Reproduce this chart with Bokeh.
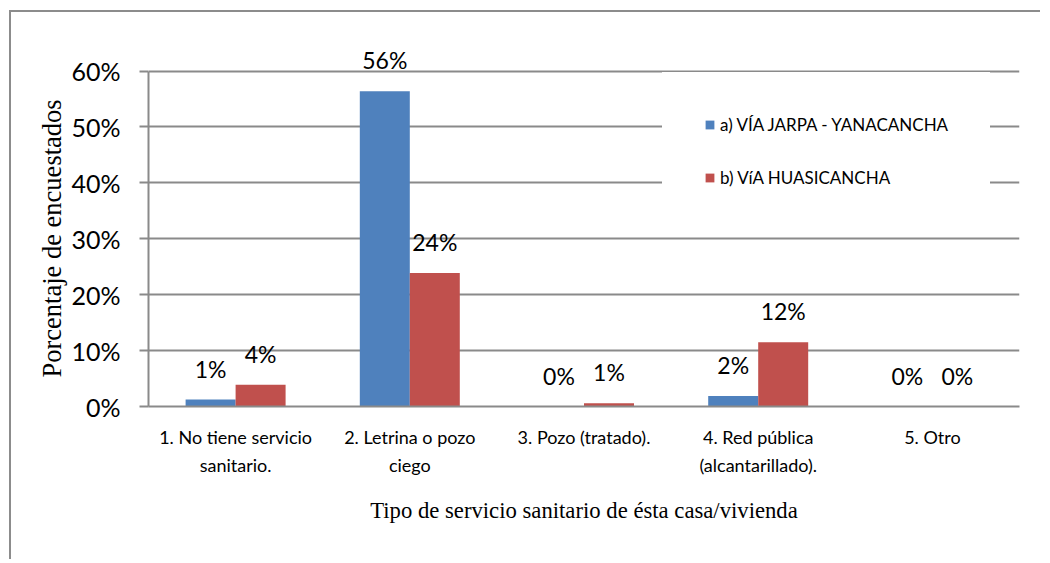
from bokeh.plotting import figure
from bokeh.models import (FactorRange, Range1d, ColumnDataSource, LabelSet, Legend,
                          LegendItem, NumeralTickFormatter, FixedTicker, Title)
from bokeh.transform import dodge
from bokeh.embed import file_html
from bokeh.resources import INLINE
from bokeh.core.properties import value

# ---- data ----
categories = ["1. No tiene servicio\nsanitario.", "2. Letrina o pozo\nciego",
              "3. Pozo (tratado).", "4. Red pública\n(alcantarillado).", "5. Otro"]
series_a_name = "a) VÍA JARPA - YANACANCHA"
series_b_name = "b) VíA HUASICANCHA"
series_a = [0.0125, 0.564, 0.0, 0.019, 0.0]
series_b = [0.039, 0.239, 0.006, 0.115, 0.0]
labels_a = ["1%", "56%", "0%", "2%", "0%"]
labels_b = ["4%", "24%", "1%", "12%", "0%"]
y_ticks = [0.0, 0.1, 0.2, 0.3, 0.4, 0.5, 0.6]
y_title = "Porcentaje de encuestados"
x_title = "Tipo de servicio sanitario de ésta casa/vivienda"

GRID = "#8a8a8a"
BLUE = "#4F81BD"
RED = "#C0504D"

src = ColumnDataSource(dict(cat=categories, a=series_a, b=series_b, la=labels_a, lb=labels_b))

p = figure(x_range=FactorRange(*categories), y_range=Range1d(0, 0.66),
           width=1031, height=549, output_backend="svg", toolbar_location=None,
           min_border_left=137, min_border_right=23, min_border_top=25, min_border_bottom=155)
p.styles = {"margin-left": "9px", "margin-top": "10px",
            "border-left": "2px solid #8c8c8c", "border-top": "2px solid #8c8c8c"}
p.outline_line_color = None
p.background_fill_color = "white"
p.border_fill_color = "white"

off = 0.1435
ra = p.vbar(x=dodge("cat", -off, range=p.x_range), top="a", width=0.287, source=src,
            fill_color=BLUE, line_color=None)
rb = p.vbar(x=dodge("cat", off, range=p.x_range), top="b", width=0.287, source=src,
            fill_color=RED, line_color=None)

for col, lab, o in (("a", "la", -off), ("b", "lb", off)):
    ls = LabelSet(x=dodge("cat", o, range=p.x_range), y=col, text=lab, source=src,
                  text_align="center", text_baseline="middle", y_offset=31,
                  text_font=value("Lato"), text_font_size="23px", text_color="black")
    p.add_layout(ls)

# grid
p.xgrid.grid_line_color = None
p.ygrid.ticker = FixedTicker(ticks=y_ticks)
p.ygrid.grid_line_color = GRID
p.ygrid.grid_line_width = 2

# y axis
p.yaxis.ticker = FixedTicker(ticks=y_ticks)
p.yaxis.bounds = (0, 0.6)
p.yaxis.formatter = NumeralTickFormatter(format="0%")
p.yaxis.axis_line_color = GRID
p.yaxis.axis_line_width = 2
p.yaxis.major_tick_line_color = GRID
p.yaxis.major_tick_line_width = 2
p.yaxis.major_tick_out = 9
p.yaxis.major_tick_in = 0
p.yaxis.minor_tick_line_color = None
p.yaxis.major_label_standoff = 19
p.yaxis.major_label_text_font = "Lato"
p.yaxis.major_label_text_font_size = "25px"
p.yaxis.major_label_text_color = "black"

ytitle = Title(text=y_title, align="left", offset=29, standoff=4,
               text_font="Liberation Serif", text_font_size="26.5px",
               text_font_style="normal", text_color="black")
p.add_layout(ytitle, "left")

# x axis
p.xaxis.axis_line_color = GRID
p.xaxis.axis_line_width = 2
p.xaxis.major_tick_line_color = None
p.xaxis.minor_tick_line_color = None
p.xaxis.major_label_standoff = 13
p.xaxis.major_label_text_font = "Lato"
p.xaxis.major_label_text_font_size = "18px"
p.xaxis.major_label_text_line_height = 1.3
p.xaxis.major_label_text_color = "black"
p.xaxis.axis_label = x_title
p.xaxis.axis_label_text_font = "Liberation Serif"
p.xaxis.axis_label_text_font_size = "22.7px"
p.xaxis.axis_label_text_font_style = "normal"
p.xaxis.axis_label_text_color = "black"
p.xaxis.axis_label_standoff = 19

legend = Legend(items=[LegendItem(label=series_a_name, renderers=[ra]),
                       LegendItem(label=series_b_name, renderers=[rb])],
                location=(514, 176), orientation="vertical",
                glyph_width=11, glyph_height=11, label_height=20, label_standoff=5,
                spacing=32, padding=42, margin=0,
                border_line_color="white", border_line_alpha=0,
                background_fill_color="white", background_fill_alpha=1,
                label_text_font="Lato", label_text_font_size="17px", label_text_color="black")
p.add_layout(legend)

open("out.html", "w").write(file_html(p, INLINE))
